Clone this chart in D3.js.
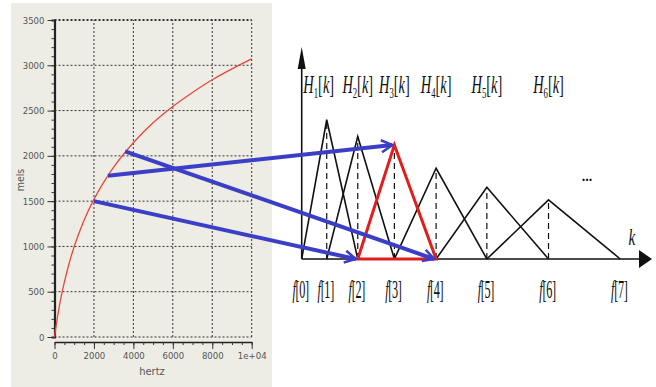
<!DOCTYPE html>
<html>
<head>
<meta charset="utf-8">
<script src="https://cdn.jsdelivr.net/npm/d3@7"></script>
<style>
  body { margin: 0; background: #fff; }
  svg { display: block; }
</style>
</head>
<body>
<div id="chart"></div>
<script>
// mel curve
const hertz = [0, 100, 250, 500, 750, 1000, 1500, 2000, 2500, 3000, 4000, 5000, 6000, 7000, 8000, 9000, 10000];
const mels = [0, 150, 345, 605, 820, 1000, 1290, 1520, 1710, 1875, 2145, 2365, 2545, 2700, 2840, 2960, 3070];
const hzTicks = [0, 2000, 4000, 6000, 8000, 10000];
const hzTickLabels = ["0", "2000", "4000", "6000", "8000", "1e+04"];
const melTicks = [0, 500, 1000, 1500, 2000, 2500, 3000, 3500];

// filter bank (k axis units), f[0]..f[7] and peak heights of H1..H6
const fPoints = [0, 25, 56, 92.6, 134.3, 185, 246.6, 318.3];
const peaks = [0.66, 0.58, 0.54, 0.43, 0.34, 0.28];
const highlighted = 3; // H3 drawn in red

// mel points mapped onto the filter bank
const arrowHz = [2000, 2710, 3580];
const arrowMel = [1500, 1780, 2050];
const arrowTargetF = [2, 3, 4];
const arrowToPeak = [false, true, false];

const W = 656, H = 387;
const svg = d3.select("#chart").append("svg")
    .attr("width", W)
    .attr("height", H);

const blue = "#3b3ec6";

svg.append("defs").append("marker")
    .attr("id", "head")
    .attr("markerUnits", "userSpaceOnUse")
    .attr("viewBox", "-14 -8 16 16")
    .attr("markerWidth", 16)
    .attr("markerHeight", 16)
    .attr("refX", 0)
    .attr("refY", 0)
    .attr("orient", "auto")
    .append("path")
    .attr("d", "M-11,-6 L0,0 L-11,6")
    .attr("fill", "none")
    .attr("stroke", blue)
    .attr("stroke-width", 2.5);

//----Left panel----
svg.append("rect")
    .attr("x", 11).attr("y", 3)
    .attr("width", 261).attr("height", 384)
    .attr("fill", "#ededE6");

const xScale = d3.scaleLinear().domain([0, 10000]).range([54.5, 251.7]);
const yScale = d3.scaleLinear().domain([0, 3500]).range([337, 20]);

const left = svg.append("g");
const narrow = "'Liberation Sans Narrow', 'DejaVu Sans Condensed', sans-serif";

// dotted grid
left.selectAll(".vgrid")
    .data(hzTicks.slice(1))
    .enter().append("line")
    .attr("x1", d => xScale(d)).attr("x2", d => xScale(d))
    .attr("y1", yScale(0)).attr("y2", yScale(3500))
    .attr("stroke", "#333")
    .attr("stroke-width", 1)
    .attr("stroke-dasharray", "2,2");

left.selectAll(".hgrid")
    .data(melTicks)
    .enter().append("line")
    .attr("x1", xScale(0)).attr("x2", xScale(10000))
    .attr("y1", d => yScale(d)).attr("y2", d => yScale(d))
    .attr("stroke", "#333")
    .attr("stroke-width", d => d === 3500 ? 2.2 : 1)
    .attr("stroke-dasharray", "2,2");

// y axis
const yAxis = left.append("g")
    .attr("transform", `translate(${xScale(0)},0)`)
    .call(d3.axisLeft(yScale).tickValues(d3.range(0, 3501, 100)).tickSize(3).tickFormat(""));
yAxis.select(".domain").attr("stroke-width", 2.2).attr("stroke", "#222");
yAxis.selectAll(".tick line").attr("stroke", "#333");

const yMajor = left.append("g")
    .attr("transform", `translate(${xScale(0)},0)`)
    .call(d3.axisLeft(yScale).tickValues(melTicks).tickSize(7).tickPadding(3).tickFormat(d3.format("d")));
yMajor.select(".domain").remove();
yMajor.selectAll(".tick line").attr("stroke", "#333");
yMajor.selectAll("text")
    .attr("font-family", narrow)
    .attr("font-size", 9.5)
    .attr("fill", "#555");

// x axis, sits a little under the plot
const xAxis = left.append("g")
    .attr("transform", `translate(0,${yScale(0) + 5})`)
    .call(d3.axisBottom(xScale).tickValues(d3.range(0, 10001, 500)).tickSize(3).tickSizeOuter(0).tickFormat(""));
xAxis.select(".domain").attr("stroke-width", 1.5).attr("stroke", "#222");
xAxis.selectAll(".tick line").attr("stroke", "#333");

const xMajor = left.append("g")
    .attr("transform", `translate(0,${yScale(0) + 5})`)
    .call(d3.axisBottom(xScale).tickValues(hzTicks).tickSize(7).tickPadding(3)
        .tickFormat((d, i) => hzTickLabels[i]));
xMajor.select(".domain").remove();
xMajor.selectAll(".tick line").attr("stroke", "#333");
xMajor.selectAll("text")
    .attr("font-family", narrow)
    .attr("font-size", 9.5)
    .attr("fill", "#555");

left.append("text")
    .attr("x", 152).attr("y", 375)
    .attr("text-anchor", "middle")
    .attr("font-family", narrow)
    .attr("font-size", 11)
    .attr("fill", "#555")
    .text("hertz");

left.append("text")
    .attr("transform", "translate(24,180) rotate(-90)")
    .attr("text-anchor", "middle")
    .attr("font-family", narrow)
    .attr("font-size", 10.5)
    .attr("fill", "#555")
    .text("mels");

// mel curve
const melLine = d3.line()
    .x((d, i) => xScale(hertz[i]))
    .y(d => yScale(d))
    .curve(d3.curveMonotoneX);

left.append("path")
    .datum(mels)
    .attr("fill", "none")
    .attr("stroke", "#e8463c")
    .attr("stroke-width", 1.3)
    .attr("d", melLine);

//----Right panel: triangular filter bank----
const kScale = d3.scaleLinear().domain([0, 350]).range([301.7, 652]);
const aScale = d3.scaleLinear().domain([0, 1]).range([259, 48]);

const right = svg.append("g");

// axes with filled arrow heads
right.append("line")
    .attr("x1", kScale(0)).attr("x2", kScale(0))
    .attr("y1", aScale(0)).attr("y2", aScale(0.95))
    .attr("stroke", "#111").attr("stroke-width", 1.6);
right.append("path")
    .attr("d", `M${kScale(0) - 4},${aScale(0.9)} L${kScale(0)},${aScale(1.005)} L${kScale(0) + 4},${aScale(0.9)} Z`)
    .attr("fill", "#111");

right.append("line")
    .attr("x1", kScale(0)).attr("x2", kScale(340))
    .attr("y1", aScale(0)).attr("y2", aScale(0))
    .attr("stroke", "#111").attr("stroke-width", 1.6);
right.append("path")
    .attr("d", `M${kScale(337)},${aScale(0) - 9} L${kScale(350)},${aScale(0)} L${kScale(337)},${aScale(0) + 9} Z`)
    .attr("fill", "#111");

const tri = peaks.map((p, i) => [
    [fPoints[i], 0], [fPoints[i + 1], p], [fPoints[i + 2], 0]
]);
const triLine = d3.line().x(d => kScale(d[0])).y(d => aScale(d[1]));

// dashed centre lines
right.selectAll(".centre")
    .data(peaks)
    .enter().append("line")
    .attr("x1", (d, i) => kScale(fPoints[i + 1])).attr("x2", (d, i) => kScale(fPoints[i + 1]))
    .attr("y1", aScale(0)).attr("y2", d => aScale(d))
    .attr("stroke", "#111")
    .attr("stroke-width", 1.2)
    .attr("stroke-dasharray", "6,4");

right.selectAll(".tri")
    .data(tri.filter((d, i) => i + 1 !== highlighted))
    .enter().append("path")
    .attr("fill", "none")
    .attr("stroke", "#111")
    .attr("stroke-width", 1.6)
    .attr("d", triLine);

// H labels
const serif = "'Liberation Serif', 'DejaVu Serif', serif";
const hLabels = right.selectAll(".hlab")
    .data(peaks)
    .enter().append("text")
    .attr("transform", (d, i) => `translate(${kScale(fPoints[i + 1]) + (i === 0 ? -8 : 0)},93) scale(0.72,1.25)`)
    .attr("text-anchor", "middle")
    .attr("font-family", serif)
    .attr("font-size", 20)
    .attr("fill", "#111");
hLabels.append("tspan").attr("font-style", "italic").text("H");
hLabels.append("tspan").attr("font-size", 12).attr("dy", 4).text((d, i) => i + 1);
hLabels.append("tspan").attr("dy", -4).text("[");
hLabels.append("tspan").attr("font-style", "italic").text("k");
hLabels.append("tspan").text("]");

// f labels
const fLabels = right.selectAll(".flab")
    .data(fPoints)
    .enter().append("text")
    .attr("transform", d => `translate(${kScale(d) - 1},298) scale(0.68,1.4)`)
    .attr("text-anchor", "middle")
    .attr("font-family", serif)
    .attr("font-size", 18)
    .attr("letter-spacing", -0.5)
    .attr("fill", "#111");
fLabels.append("tspan").attr("font-style", "italic").text("f");
fLabels.append("tspan").text((d, i) => `[${i}]`);

right.append("text")
    .attr("transform", `translate(${kScale(330)},245) scale(0.8,1.2)`)
    .attr("text-anchor", "middle")
    .attr("font-family", serif)
    .attr("font-style", "italic")
    .attr("font-size", 19)
    .attr("fill", "#111")
    .text("k");

right.append("text")
    .attr("x", kScale(285)).attr("y", 181)
    .attr("text-anchor", "middle")
    .attr("font-family", serif)
    .attr("font-size", 14)
    .attr("font-weight", "bold")
    .attr("fill", "#111")
    .text("...");

// blue arrows from the mel curve to the filter bank
svg.selectAll(".arrow")
    .data(arrowMel)
    .enter().append("line")
    .attr("x1", (d, i) => xScale(arrowHz[i]))
    .attr("y1", d => yScale(d))
    .attr("x2", (d, i) => kScale(fPoints[arrowTargetF[i]]) - 2)
    .attr("y2", (d, i) => aScale(arrowToPeak[i] ? peaks[arrowTargetF[i] - 1] : 0))
    .attr("stroke", blue)
    .attr("stroke-width", 4)
    .attr("marker-end", "url(#head)");

// highlighted filter in red, on top
right.append("path")
    .datum(tri[highlighted - 1])
    .attr("fill", "none")
    .attr("stroke", "#e01e1e")
    .attr("stroke-width", 3)
    .attr("stroke-linejoin", "miter")
    .attr("d", d => triLine(d) + "Z");
</script>
</body>
</html>
